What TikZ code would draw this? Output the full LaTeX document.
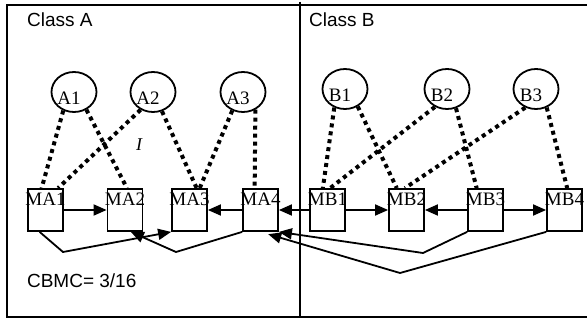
\documentclass[tikz,border=0pt]{standalone}
\usepackage{fontspec}
\setmainfont{Liberation Serif}
\setsansfont{Liberation Sans}
\usetikzlibrary{shapes.geometric,arrows.meta}

\begin{document}
\begin{tikzpicture}[x=0.5pt, y=-0.5pt,
    attrnode/.style={ellipse, draw, line width=0.9pt, minimum width=22.5pt, minimum height=20pt, inner sep=0pt},
    methnode/.style={rectangle, draw, line width=0.9pt, minimum width=17.5pt, minimum height=21pt, inner sep=0pt},
    dotlink/.style={line width=2pt, dash pattern=on 2pt off 2pt},
    calllink/.style={line width=0.9pt, -{Triangle[length=6.5pt, width=5.5pt]}},
    frame/.style={line width=0.9pt},
    every label/.style={font=\fontsize{9.5}{10}\selectfont},
    attrlabel/.style={xshift=-2.5pt, yshift=-3pt, inner sep=0pt},
    methlabel/.style={anchor=north, inner sep=2pt}]
    \useasboundingbox (0,0) rectangle (587,320);

    % Frame and divider
    \draw[frame] (587,5) -- (7,5) -- (7,317) -- (587,317);
    \draw[frame] (300,2) -- (300,317);

    % Class A
    \node[anchor=west, font=\sffamily\fontsize{9.5}{10}\selectfont] (classa) at (20,20) {Class A};
    \node[attrnode, label={[attrlabel]center:A1}] (a1) at (74,92) {};
    \node[attrnode, label={[attrlabel]center:A2}] (a2) at (153,92) {};
    \node[attrnode, label={[attrlabel]center:A3}] (a3) at (243,92) {};
    \node[font=\itshape\fontsize{9}{10}\selectfont] (mark) at (139,145) {I};
    \node[methnode, label={[methlabel]north:MA1}] (ma1) at (45.5,210) {};
    \node[methnode, label={[methlabel]north:MA2}] (ma2) at (125,210) {};
    \node[methnode, label={[methlabel]north:MA3}] (ma3) at (189.5,210) {};
    \node[methnode, label={[methlabel]north:MA4}] (ma4) at (260.5,210) {};
    \node[anchor=west, font=\sffamily\fontsize{9.5}{10}\selectfont] (cbmc) at (20,281) {CBMC= 3/16};

    % Class B
    \node[anchor=west, font=\sffamily\fontsize{9.5}{10}\selectfont] (classb) at (302,20) {Class B};
    \node[attrnode, label={[attrlabel]center:B1}] (b1) at (345,89) {};
    \node[attrnode, label={[attrlabel]center:B2}] (b2) at (447,89) {};
    \node[attrnode, label={[attrlabel]center:B3}] (b3) at (536,89) {};
    \node[methnode, label={[methlabel]north:MB1}] (mb1) at (327.5,210) {};
    \node[methnode, label={[methlabel]north:MB2}] (mb2) at (406.5,210) {};
    \node[methnode, label={[methlabel]north:MB3}] (mb3) at (485.5,210) {};
    \node[methnode, label={[methlabel]north:MB4}] (mb4) at (564.5,210) {};

    % Attribute use
    \draw[dotlink] (a1.240) -- (ma1.100);
    \draw[dotlink] (a1.305) -- (ma2.85);
    \draw[dotlink] (a2.235) -- (ma1.60);
    \draw[dotlink] (a2.295) -- (ma3.72);
    \draw[dotlink] (a3.240) -- (ma3.65);
    \draw[dotlink] (a3.305) -- (ma4.105);
    \draw[dotlink] (b1.240) -- (mb1.102);
    \draw[dotlink] (b1.306) -- (mb2.114);
    \draw[dotlink] (b2.236) -- (mb1.83);
    \draw[dotlink] (b2.295) -- (mb3.112);
    \draw[dotlink] (b3.240) -- (mb2.94);
    \draw[dotlink] (b3.300) -- (mb4.83);

    % Calls
    \draw[calllink] (ma1) -- (ma2);
    \draw[calllink] (ma4) -- (ma3);
    \draw[calllink] (mb1) -- (ma4);
    \draw[calllink] (mb1) -- (mb2);
    \draw[calllink] (mb3) -- (mb2);
    \draw[calllink] (mb3) -- (mb4);

    \coordinate (k1) at (63,252);
    \coordinate (k2) at (176,252);
    \coordinate (k3) at (423,253);
    \coordinate (k4) at (400,273);
    \draw[calllink] (ma1.255) -- (k1) -- (ma3.south west);
    \draw[calllink] (ma4.south west) -- (k2) -- (ma2.285);
    \draw[calllink] (mb3.south west) -- (k3) -- (ma4.south east);
    \draw[calllink, shorten >=4pt] (mb4.south west) -- (k4) -- (ma4.south);
\end{tikzpicture}
\end{document}
